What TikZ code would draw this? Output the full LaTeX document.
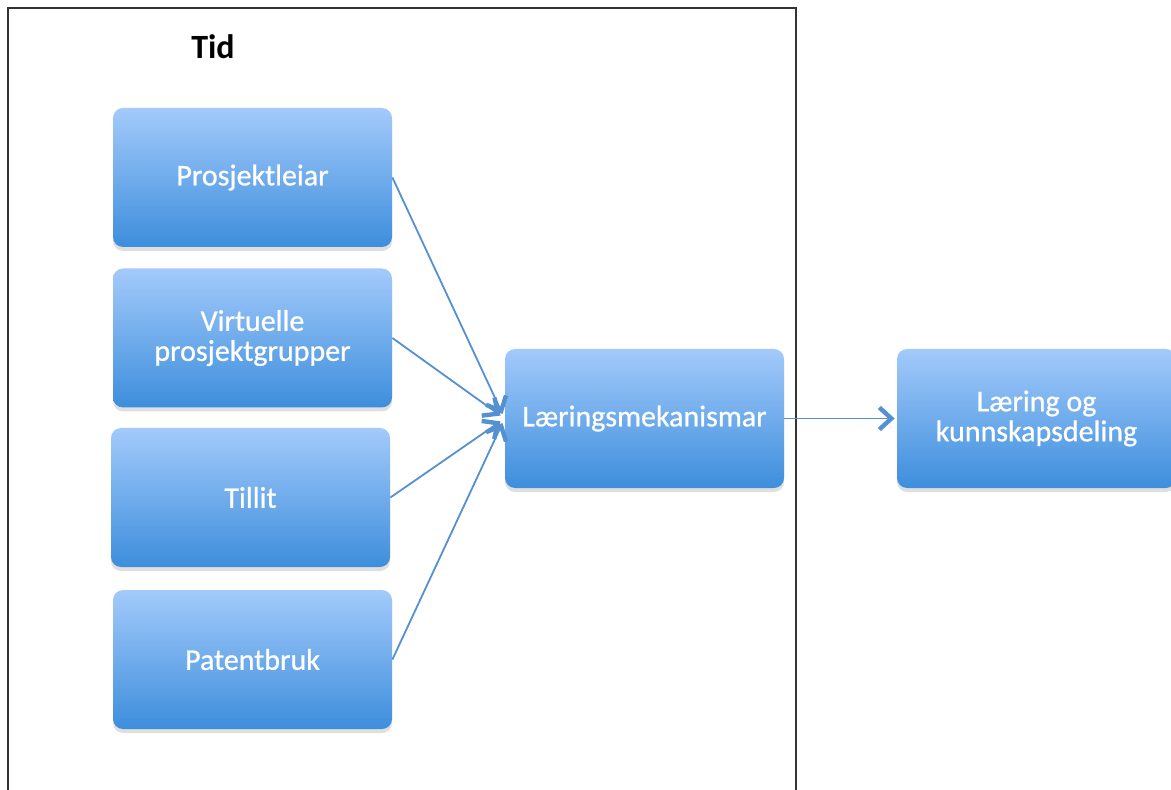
\documentclass[tikz,border=0pt]{standalone}
\usepackage{fontspec}
\setmainfont{Carlito}
\newfontfamily\boxfont[FakeBold=0.8]{Carlito}
\usepackage{xcolor}
\usepackage{tikz}
\usetikzlibrary{shadows,arrows.meta}

\definecolor{boxtop}{HTML}{A3CAFB}
\definecolor{boxbot}{HTML}{3D8EDC}
\definecolor{linkblue}{HTML}{5590D0}
\definecolor{framegray}{HTML}{333333}

\tikzset{
    factor/.style={rectangle, rounded corners=5pt, minimum width=139.5pt, minimum height=69.5pt,
        top color=boxtop, bottom color=boxbot, draw=none, text=white, align=center,
        font=\boxfont\fontsize{15}{15}\selectfont,
        drop shadow={shadow xshift=0pt, shadow yshift=-2pt, opacity=0.25}},
    link/.style={linkblue, line width=0.9pt, -{Straight Barb[length=6pt,width=11pt,line width=2.2pt]}}
}

\begin{document}
\begin{tikzpicture}[x=0.5pt,y=-0.5pt]
    \useasboundingbox (0,0) rectangle (1171,790);

    % Frame
    \draw[framegray, line width=0.8pt] (8,800) -- (8,8) -- (796,8) -- (796,800);
    \node[font=\bfseries\fontsize{17}{17}\selectfont] (tid) at (213,47) {Tid};

    % Factors
    \node[factor] (leiar) at (252.5,177.5) {Prosjektleiar};
    \node[factor] (grupper) at (252.5,338) {Virtuelle\\prosjektgrupper};
    \node[factor] (tillit) at (250.5,497.5) {Tillit};
    \node[factor] (patent) at (252.5,659.5) {Patentbruk};

    % Mechanisms and outcome
    \node[factor] (mek) at (644.5,418.5) {Læringsmekanismar};
    \node[factor] (deling) at (1036.5,418.5) {Læring og\\kunnskapsdeling};

    % Links
    \draw[link, shorten >=2.5pt] (leiar.east) -- (mek.west);
    \draw[link, shorten >=2.5pt] (grupper.east) -- (mek.west);
    \draw[link, shorten >=2.5pt] (tillit.east) -- (mek.west);
    \draw[link, shorten >=2.5pt] (patent.east) -- (mek.west);
    \draw[link, shorten >=1pt] (mek.east) -- (deling.west);
\end{tikzpicture}
\end{document}
